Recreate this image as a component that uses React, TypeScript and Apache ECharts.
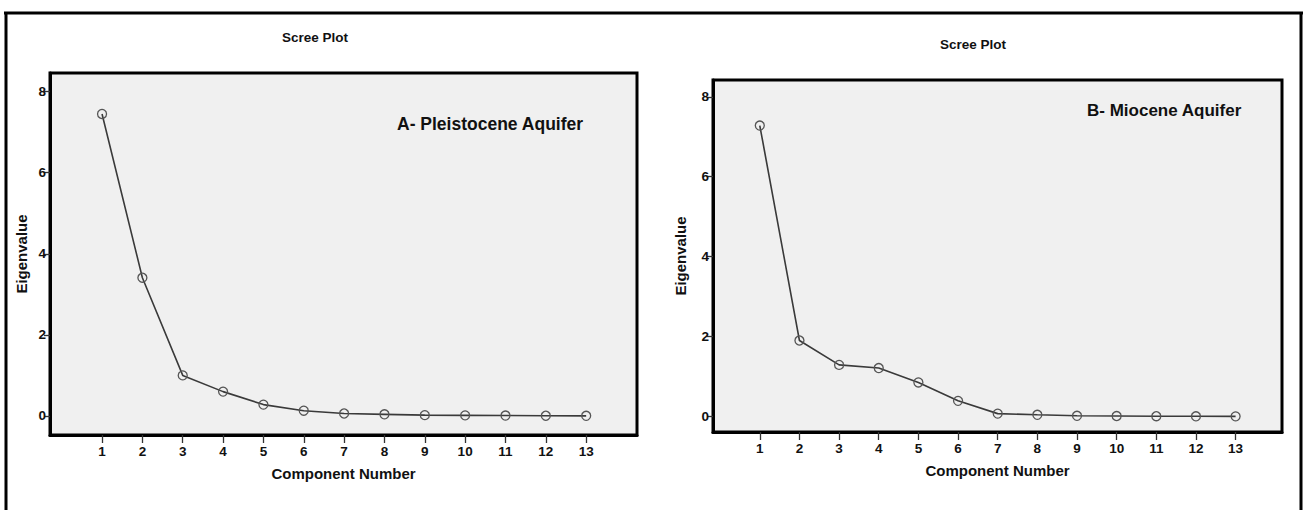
import React, { useEffect, useRef } from "react";
import * as echarts from "echarts";

const components = [1, 2, 3, 4, 5, 6, 7, 8, 9, 10, 11, 12, 13];
const eigenPleistocene = [7.45, 3.41, 1.0, 0.6, 0.28, 0.13, 0.06, 0.04, 0.02, 0.015, 0.01, 0.005, 0.003];
const eigenMiocene = [7.28, 1.9, 1.29, 1.21, 0.85, 0.39, 0.07, 0.04, 0.015, 0.01, 0.005, 0.003, 0.002];
const yTicks = [0, 2, 4, 6, 8];
const panelTitles = ["Scree Plot", "Scree Plot"];
const panelLabels = ["A- Pleistocene Aquifer", "B- Miocene Aquifer"];

const FONT = "'Liberation Sans', Arial, sans-serif";

export default function App() {
  const ref = useRef<HTMLDivElement>(null);
  useEffect(() => {
    if (!ref.current) return;
    const chart = echarts.init(ref.current, null, { renderer: "svg" });

    const xAxisBase = (gridIndex: number, min: number, max: number) => ({
      type: "value",
      gridIndex,
      min,
      max,
      position: "bottom",
      name: "Component Number",
      nameLocation: "middle",
      nameGap: 31,
      nameTextStyle: { fontFamily: FONT, fontWeight: "bold", fontSize: 15, color: "#111" },
      axisLine: { show: true, onZero: false, lineStyle: { color: "#000", width: 3 } },
      splitLine: { show: false },
      axisTick: { show: true, inside: false, length: 8, customValues: components, lineStyle: { color: "#333", width: 1.3 } },
      axisLabel: {
        customValues: components,
        margin: 9,
        fontFamily: FONT,
        fontWeight: "bold",
        fontSize: 13.5,
        color: "#111",
      },
      z: 5,
    });
    const yAxisBase = (gridIndex: number, min: number, max: number, gap: number) => ({
      type: "value",
      gridIndex,
      min,
      max,
      name: "Eigenvalue",
      nameLocation: "middle",
      nameRotate: 90,
      nameGap: gap,
      nameTextStyle: { fontFamily: FONT, fontWeight: "bold", fontSize: 15, color: "#111" },
      axisLine: { show: true, onZero: false, lineStyle: { color: "#000", width: 3 } },
      splitLine: { show: false },
      axisTick: { show: true, length: 6, customValues: yTicks, lineStyle: { color: "#333", width: 1.3 } },
      axisLabel: {
        customValues: yTicks,
        margin: 4,
        fontFamily: FONT,
        fontWeight: "bold",
        fontSize: 13.5,
        color: "#111",
      },
      z: 5,
    });

    const seriesBase = (idx: number, values: number[]) => ({
      type: "line",
      xAxisIndex: idx,
      yAxisIndex: idx,
      data: components.map((c, i) => [c, values[i]]),
      symbol: "circle",
      symbolSize: 9,
      lineStyle: { color: "#3a3a3a", width: 1.6 },
      itemStyle: { color: "rgba(240,240,240,0)", borderColor: "#555", borderWidth: 1.3 },
      z: 3,
    });

    chart.setOption({
      animation: false,
      backgroundColor: "#ffffff",
      title: [
        {
          text: panelTitles[0],
          left: 310,
          top: 25,
          textAlign: "center",
          textStyle: { fontFamily: FONT, fontWeight: "bold", fontSize: 13.5, color: "#111" },
        },
        {
          text: panelTitles[1],
          left: 968,
          top: 32,
          textAlign: "center",
          textStyle: { fontFamily: FONT, fontWeight: "bold", fontSize: 13.5, color: "#111" },
        },
      ],
      grid: [
        {
          left: 50,
          top: 73,
          width: 587,
          height: 362,
          show: true,
          backgroundColor: "#f0f0f0",
          borderColor: "#000",
          borderWidth: 3,
          containLabel: false,
        },
        {
          left: 713,
          top: 80,
          width: 569,
          height: 352,
          show: true,
          backgroundColor: "#f0f0f0",
          borderColor: "#000",
          borderWidth: 3,
          containLabel: false,
        },
      ],
      xAxis: [xAxisBase(0, -0.29, 14.26), xAxisBase(1, -0.18, 14.17)],
      yAxis: [yAxisBase(0, -0.47, 8.46, 21), yAxisBase(1, -0.39, 8.42, 25)],
      series: [seriesBase(0, eigenPleistocene), seriesBase(1, eigenMiocene)],
      graphic: [
        {
          type: "text",
          left: 397,
          top: 115,
          style: {
            text: panelLabels[0],
            fontFamily: FONT,
            fontWeight: "bold",
            fontSize: 17.5,
            fill: "#111",
          },
          z: 10,
        },
        {
          type: "text",
          left: 1087,
          top: 102,
          style: {
            text: panelLabels[1],
            fontFamily: FONT,
            fontWeight: "bold",
            fontSize: 17,
            fill: "#111",
          },
          z: 10,
        },
        { type: "line", shape: { x1: 4, y1: 13, x2: 1303, y2: 13 }, style: { stroke: "#000", lineWidth: 3 } },
        { type: "line", shape: { x1: 6, y1: 12, x2: 6, y2: 510 }, style: { stroke: "#000", lineWidth: 3 } },
        { type: "line", shape: { x1: 1301, y1: 12, x2: 1301, y2: 510 }, style: { stroke: "#000", lineWidth: 3 } },
      ],
    });
    return () => chart.dispose();
  }, []);
  return (
    <div
      ref={ref}
      style={{ position: "fixed", left: 0, top: 0, width: 1305, height: 510 }}
    />
  );
}
